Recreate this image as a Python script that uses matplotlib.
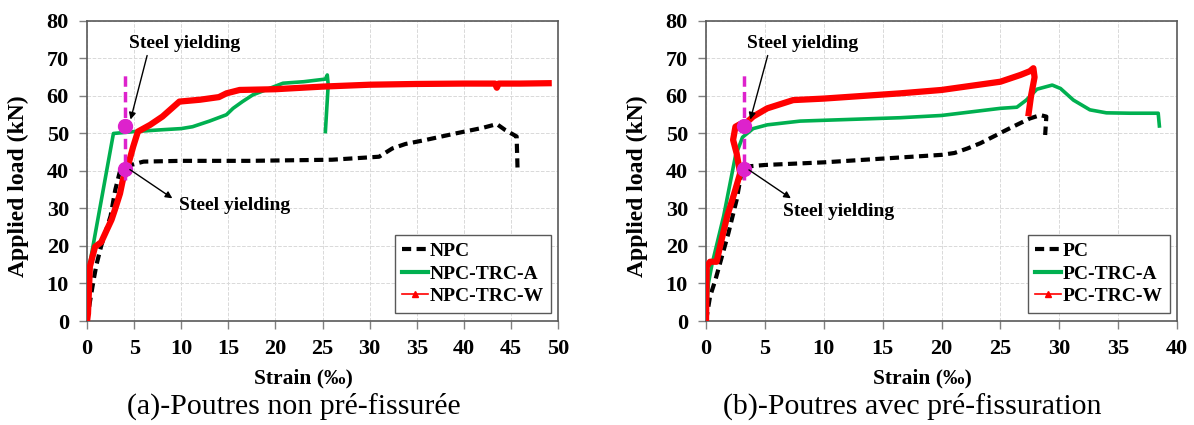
import matplotlib.pyplot as plt
from matplotlib.lines import Line2D

# ---- data: strain (per mille) vs load (kN) ----
# (a) beams without pre-cracking
npc_x = [0, 0.3, 0.7, 1.0, 1.5, 2.0, 2.5, 3.0, 3.5, 4.5, 6, 10, 17.2, 26, 31, 32.4, 33.8, 36, 39.1, 42, 43.5, 44.4, 45.6, 45.7]
npc_y = [0, 5, 11, 15, 20, 24, 28, 35, 40, 41.5, 42.5, 42.7, 42.7, 43.0, 43.8, 46, 47.2, 48.3, 50, 51.5, 52.5, 50.9, 49.2, 40.3]
npca_x = [0, 0.2, 2.8, 5, 8, 10, 11.2, 13, 14.8, 15.5, 16.5, 17.6, 20.8, 23, 25.3, 25.5, 25.6, 25.3]
npca_y = [0, 14, 50, 50.5, 51, 51.3, 51.8, 53.3, 55, 56.7, 58.5, 60.3, 63.4, 63.8, 64.5, 65.6, 63, 50.5]
npcw_x = [0, 0.1, 0.2, 0.3, 0.85, 1.5, 2.1, 2.6, 3.0, 3.5, 3.8, 4.3, 4.9, 5.4, 6.7, 8, 9.8, 12, 14, 14.8, 16.2, 20, 25, 30, 35, 40, 43.3, 43.5, 43.7, 46, 49]
npcw_y = [0, 2, 8, 14.5, 19.8, 21, 24.3, 27, 30, 34, 37.6, 41, 46.5, 50.5, 52.3, 54.5, 58.5, 59, 59.7, 60.7, 61.6, 61.8, 62.5, 63, 63.2, 63.3, 63.3, 62.2, 63.3, 63.3, 63.4]

# (b) pre-cracked beams
pc_x = [0, 0.34, 0.8, 1.2, 1.9, 2.6, 3.1, 5, 10, 16.5, 20, 21.1, 22.2, 23.3, 25.8, 27.5, 28.4, 28.9, 28.8]
pc_y = [0, 6.5, 11, 15.5, 23.4, 32.3, 41.1, 41.6, 42.3, 43.6, 44.3, 44.8, 46, 47.4, 51.4, 54, 54.9, 54.5, 49.6]
pca_x = [0, 0.2, 0.5, 1.5, 2.5, 3.1, 4, 5.2, 8, 16.5, 20, 25, 26.4, 27.2, 28.1, 29.4, 30.1, 31.2, 32.6, 34, 36, 38.4, 38.5]
pca_y = [0, 10, 15, 28, 44, 49, 51.3, 52.3, 53.3, 54.2, 54.8, 56.7, 57, 58.9, 61.8, 62.9, 62, 58.9, 56.3, 55.5, 55.4, 55.4, 52]
pcw_x = [0, 0.06, 0.34, 0.9, 1.2, 1.8, 2.3, 2.9, 2.6, 2.3, 2.5, 2.9, 3.3, 4, 5.2, 7.4, 10, 16.5, 20, 25, 26.7, 27.5, 27.8, 27.9, 27.6, 27.4]
pcw_y = [0, 14.5, 15.8, 15.8, 20, 28, 33, 39.4, 44.7, 48.3, 51.8, 52.5, 52.5, 54.5, 56.7, 58.9, 59.3, 60.7, 61.6, 63.8, 65.6, 66.6, 67.4, 65, 60, 55.4]

yield_strain = [4.05, 3.25]
yield_loads = [40.5, 52]

green = '#00B050'
magenta = '#DD22CC'
font = 'Liberation Serif'

fig = plt.figure(figsize=(11.94, 4.25), dpi=100)
ax1 = fig.add_axes([0.0729, 0.2447, 0.3945, 0.706])
ax2 = fig.add_axes([0.5913, 0.2447, 0.3945, 0.706])

panels = [
    (ax1, npc_x, npc_y, npca_x, npca_y, npcw_x, npcw_y, ['NPC', 'NPC-TRC-A', 'NPC-TRC-W'], 50,
     yield_strain[0], (10.4, 73.9), (6.45, 71.5), (4.55, 53), (15.7, 30.8), (4.3, 40.8), (9.3, 32.3)),
    (ax2, pc_x, pc_y, pca_x, pca_y, pcw_x, pcw_y, ['PC', 'PC-TRC-A', 'PC-TRC-W'], 40,
     yield_strain[1], (8.2, 73.9), (5.3, 71.5), (3.7, 53), (11.3, 29.3), (3.45, 40.7), (7.4, 32.3)),
]

dash = (0, (2.2, 1.3))

for (ax, bx, by, ax_, ay, wx, wy, labels, xmax, ys, t1, a1s, a1e, t2, a2s, a2e) in panels:
    ax.plot(bx, by, color='black', lw=3, ls=dash, zorder=3)
    ax.plot(ax_, ay, color=green, lw=2.6, zorder=3)
    ax.plot(wx, wy, color='red', lw=4.5, zorder=4, solid_joinstyle='round')

    # steel yielding marker
    ax.plot([ys, ys], [37.6, 66], color=magenta, lw=2.5, ls=(0, (3, 1.5)), zorder=5)
    ax.plot([ys, ys], yield_loads, 'o', color=magenta, ms=10, zorder=6)

    for s, e in [(a1s, a1e), (a2s, a2e)]:
        ax.annotate('', xy=e, xytext=s,
                    arrowprops=dict(arrowstyle='-|>', color='black', lw=1, mutation_scale=10), zorder=7)
    for t in [t1, t2]:
        ax.text(t[0], t[1], 'Steel yielding', ha='center', va='center',
                family=font, fontweight='bold', fontsize=14)

    ax.set_xlim(0, xmax)
    ax.set_ylim(0, 80)
    ax.set_xticks(range(0, xmax + 1, 5))
    ax.set_yticks(range(0, 81, 10))
    ax.grid(True, color='#d9d9d9', ls='--', lw=0.7)
    ax.set_axisbelow(True)
    for sp in ax.spines.values():
        sp.set_color('#595959')
        sp.set_linewidth(1.2)
    ax.tick_params(length=6, color='#808080', width=1, pad=7)
    for lab in ax.get_xticklabels() + ax.get_yticklabels():
        lab.set_family(font)
        lab.set_fontweight('bold')
        lab.set_fontsize(16)
    ax.set_xlabel('Strain (‰)', family=font, fontweight='bold', fontsize=15.5)
    ax.set_ylabel('Applied load (kN)', family=font, fontweight='bold', fontsize=17)
    ax.xaxis.set_label_coords(0.46, -0.157)
    ax.yaxis.set_label_coords(-0.123, 0.45)

    handles = [
        Line2D([0], [0], color='black', lw=3, ls=dash),
        Line2D([0], [0], color=green, lw=3),
        Line2D([0], [0], color='red', lw=1.2, marker='^', ms=5),
    ]
    lg = ax.legend(handles, labels, loc='lower right', bbox_to_anchor=(0.986, 0.027),
                   prop={'family': font, 'weight': 'bold', 'size': 14},
                   handlelength=1.3, handletextpad=0.1, labelspacing=0.25,
                   borderpad=0.4, borderaxespad=0, fancybox=False, framealpha=1)
    lg.get_frame().set_edgecolor('#595959')
    lg.get_frame().set_linewidth(1)

fig.text(0.246, 0.045, '(a)-Poutres non pré-fissurée', ha='center', va='center',
         family=font, fontsize=21.5)
fig.text(0.764, 0.045, '(b)-Poutres avec pré-fissuration', ha='center', va='center',
         family=font, fontsize=21.5)

fig.savefig('out.png', dpi=100)
